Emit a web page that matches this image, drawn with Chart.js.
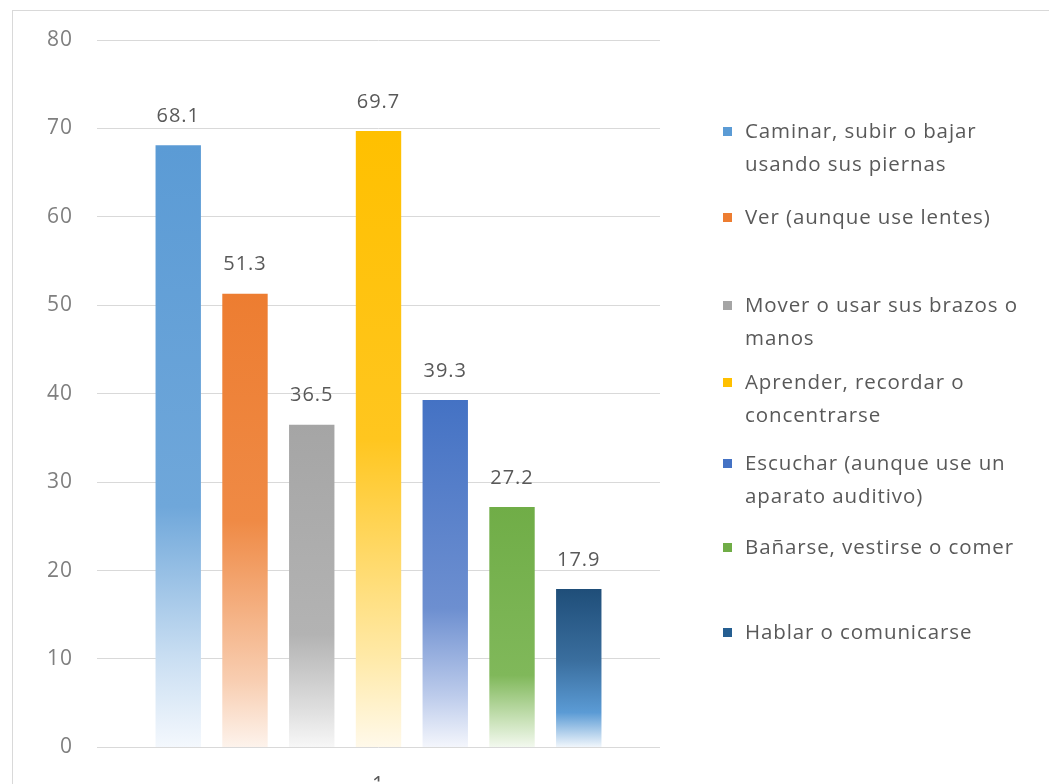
<!DOCTYPE html>
<html>
<head>
<meta charset="utf-8">
<script src="https://cdn.jsdelivr.net/npm/chart.js@4.4.1/dist/chart.umd.min.js"></script>
<style>
  html, body { margin: 0; padding: 0; background: #fff; width: 1049px; height: 784px; overflow: hidden; }
  #frame { position: absolute; left: 12px; top: 10px; width: 1100px; height: 800px; border: 1px solid #d9d9d9; box-sizing: border-box; }
  #wrap { position: absolute; left: 0; top: 0; width: 680px; height: 784px; }
  #legend { position: absolute; left: 0; top: 0; width: 1049px; height: 784px; pointer-events: none; }
  .item { position: absolute; left: 723px; font-family: "Open Sans", sans-serif; font-size: 20.5px; letter-spacing: 0.9px; line-height: 33px; color: #595959; white-space: pre-line; }
  .item .sw { position: absolute; left: 0; top: 13px; width: 9px; height: 9px; }
  .item .tx { margin-left: 22px; display: block; }
</style>
</head>
<body>
<div id="frame"></div>
<div id="wrap"><canvas id="c"></canvas></div>
<div id="legend"></div>
<script>
// ---- data ----
const categories = ['1'];
const seriesNames = [
  'Caminar, subir o bajar\nusando sus piernas',
  'Ver (aunque use lentes)',
  'Mover o usar sus brazos  o\nmanos',
  'Aprender, recordar o\nconcentrarse',
  'Escuchar (aunque use un\naparato auditivo)',
  'Bañarse, vestirse o comer',
  'Hablar o comunicarse'
];
const seriesValues = [68.1, 51.3, 36.5, 69.7, 39.3, 27.2, 17.9];
const yTicks = [0, 10, 20, 30, 40, 50, 60, 70, 80];

// ---- styles ----
const colors = ['#5b9bd5', '#ed7d31', '#a5a5a5', '#ffc000', '#4472c4', '#70ad47', '#255e91'];
const gradStops = [
  [[0, '#5b9bd5'], [0.6, '#6fa7da'], [0.85, '#c9def2'], [1, '#f4f8fd']],
  [[0, '#ed7d31'], [0.5, '#ef8a45'], [0.85, '#f8cdb0'], [1, '#fdf3ec']],
  [[0, '#a5a5a5'], [0.65, '#b3b3b3'], [0.88, '#dedede'], [1, '#f7f7f7']],
  [[0, '#ffc000'], [0.5, '#ffc61f'], [0.85, '#ffe9a6'], [1, '#fff9ea']],
  [[0, '#4472c4'], [0.6, '#6d8fd0'], [0.85, '#bccbeb'], [1, '#f4f6fc']],
  [[0, '#70ad47'], [0.7, '#80b85a'], [0.88, '#c6e0b4'], [1, '#f3f9ef']],
  [[0, '#1f4e79'], [0.45, '#3a6e9e'], [0.78, '#5b9bd5'], [1, '#f2f7fc']]
];
const legendTops = [114, 200, 288, 365, 446, 530, 615];

function makeBg(i) {
  return function(ctx) {
    const chart = ctx.chart;
    const area = chart.chartArea;
    if (!area) return colors[i];
    const yScale = chart.scales.y;
    const top = yScale.getPixelForValue(seriesValues[i]);
    const bottom = yScale.getPixelForValue(0);
    const g = chart.ctx.createLinearGradient(0, top, 0, bottom);
    gradStops[i].forEach(s => g.addColorStop(s[0], s[1]));
    return g;
  };
}

const datasets = seriesNames.map((n, i) => ({
  label: n.replace('\n', ' '),
  data: [seriesValues[i]],
  backgroundColor: makeBg(i),
  borderWidth: 0,
  categoryPercentage: 0.83,
  barPercentage: 0.68
}));

const spacing = {
  id: 'spacing',
  beforeDraw(chart) { chart.ctx.letterSpacing = '1px'; }
};

const valueLabels = {
  id: 'valueLabels',
  afterDatasetsDraw(chart) {
    const c = chart.ctx;
    c.save();
    c.letterSpacing = '1px';
    c.font = '20px "Open Sans", sans-serif';
    c.fillStyle = '#595959';
    c.textAlign = 'center';
    c.textBaseline = 'bottom';
    chart.data.datasets.forEach((ds, i) => {
      const meta = chart.getDatasetMeta(i);
      meta.data.forEach((bar, j) => {
        c.fillText(ds.data[j].toFixed(1), bar.x, bar.y - 19);
      });
    });
    c.restore();
  }
};

new Chart(document.getElementById('c'), {
  type: 'bar',
  data: { labels: categories, datasets },
  plugins: [spacing, valueLabels],
  options: {
    responsive: true,
    maintainAspectRatio: false,
    animation: false,
    layout: { padding: { top: 40, right: 20, left: 0, bottom: 0 } },
    plugins: { legend: { display: false }, tooltip: { enabled: false } },
    scales: {
      x: {
        grid: { display: false },
        border: { display: false },
        ticks: { font: { family: 'Open Sans', size: 21 }, color: '#595959', padding: 18 },
        afterFit(s) { s.height = 34; }
      },
      y: {
        min: 0, max: 80,
        afterBuildTicks(s) { s.ticks = yTicks.map(v => ({ value: v })); },
        grid: { color: '#d9d9d9', lineWidth: 1, drawTicks: false },
        border: { display: false },
        ticks: { font: { family: 'Open Sans', size: 21 }, color: '#7f7f7f', padding: 24 },
        afterFit(s) { s.width = 97; }
      }
    }
  }
});

const lg = document.getElementById('legend');
seriesNames.forEach((n, i) => {
  const d = document.createElement('div');
  d.className = 'item';
  d.style.top = legendTops[i] + 'px';
  const sw = document.createElement('span');
  sw.className = 'sw';
  sw.style.background = colors[i];
  const tx = document.createElement('span');
  tx.className = 'tx';
  tx.textContent = n;
  d.appendChild(sw);
  d.appendChild(tx);
  lg.appendChild(d);
});
</script>
</body>
</html>
